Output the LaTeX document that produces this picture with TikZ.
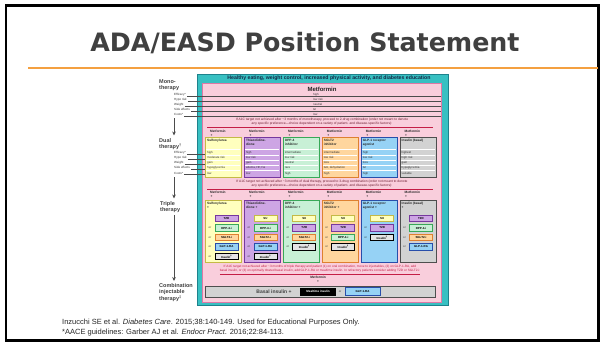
\documentclass[tikz,border=0pt]{standalone}
\usepackage{fontspec}
\setmainfont{Liberation Sans}
\newfontfamily\headfont{DejaVu Sans}
\usetikzlibrary{arrows.meta}

\definecolor{titlegray}{RGB}{64,64,64}
\definecolor{rulegold}{RGB}{244,160,64}
\definecolor{tealbg}{RGB}{56,192,194}
\definecolor{tealedge}{RGB}{30,130,140}
\definecolor{pinkbg}{RGB}{249,206,220}
\definecolor{pinkedge}{RGB}{222,120,165}
\definecolor{navytext}{RGB}{20,40,70}
\definecolor{notered}{RGB}{110,30,50}
\definecolor{rulered}{RGB}{196,30,70}
\definecolor{yelfill}{RGB}{255,255,190}
\definecolor{yeledge}{RGB}{196,186,70}
\definecolor{purfill}{RGB}{205,165,228}
\definecolor{puredge}{RGB}{118,56,158}
\definecolor{grnfill}{RGB}{200,240,214}
\definecolor{grnedge}{RGB}{56,168,88}
\definecolor{orgfill}{RGB}{255,214,158}
\definecolor{orgedge}{RGB}{222,128,48}
\definecolor{blufill}{RGB}{150,210,245}
\definecolor{bluedge}{RGB}{40,78,170}
\definecolor{gryfill}{RGB}{210,210,210}
\definecolor{gryedge}{RGB}{78,78,78}

\newcommand\tsz[2]{\fontsize{#1pt}{#2pt}\selectfont}

% one add-on drug in a triple-therapy column: column, slot, style, label
\newcommand\addon[4]{%
  \pgfmathsetmacro\px{205+#1*38.9}%
  \pgfmathsetmacro\py{218.5+#2*9.5}%
  \node[#3] (c#1s#2) at (\px+21.5,\py) {#4};%
  \ifnum#2>0 \node[orword, anchor=west] (c#1or#2) at (\px+3.5,\py) {or};\fi
}

\begin{document}
\begin{tikzpicture}[x=1pt,y=-1pt,
  colbox/.style={draw, line width=1.2pt, inner sep=0, anchor=north west, minimum width=36pt},
  drugname/.style={inner sep=0, anchor=north west, align=left, font=\bfseries\tsz{3.2}{3.9}, text=black!85},
  rowtxt/.style={inner sep=0, anchor=base west, font=\tsz{2.9}{3.4}, text=black!80},
  sidelbl/.style={inner sep=0, anchor=base west, font=\tsz{3}{3.5}, text=black!80},
  stage/.style={inner sep=0, anchor=north west, align=left, font=\bfseries\tsz{5.5}{6.3}, text=black!75},
  note/.style={inner sep=0, align=center, font=\tsz{3.3}{4}, text=notered},
  mfplus/.style={inner sep=0, anchor=north west, align=left, font=\bfseries\tsz{3.2}{4}, text=black!85},
  pickbox/.style={draw, line width=0.8pt, inner sep=0, minimum width=23pt, minimum height=6.5pt, font=\bfseries\tsz{2.9}{3.4}},
  orword/.style={inner sep=0, font=\tsz{2.8}{3.2}, text=black!80},
  tzdpick/.style={pickbox, fill=purfill, draw=puredge},
  dpppick/.style={pickbox, fill=grnfill, draw=grnedge},
  sglpick/.style={pickbox, fill=orgfill, draw=orgedge},
  glppick/.style={pickbox, fill=blufill, draw=bluedge},
  inspick/.style={pickbox, fill=gryfill!60!white, draw=black},
  supick/.style={pickbox, fill=yelfill, draw=yeledge},
  stagearrow/.style={-{Stealth[length=4pt,width=3.6pt]}, line width=0.9pt, draw=black!70},
  tablerule/.style={line width=0.35pt, draw=black!70},
  redrule/.style={line width=0.7pt, draw=rulered}]

\useasboundingbox (0,0) rectangle (603,342);
\fill[white] (0,0) rectangle (603,342);

% slide frame, title and rule
\draw[line width=2.5pt] (6.2,5.3) rectangle (598.5,340.3);
\node[font=\headfont\bfseries\fontsize{25.3}{30}\selectfont, text=titlegray, anchor=base, inner sep=0]
  (title) at (305,52) {ADA/EASD Position Statement};
\draw[line width=1.5pt, rulegold] (28,68) -- (598,68);

% algorithm background
\draw[fill=tealbg, draw=tealedge, line width=0.8pt] (197,74) rectangle (448,305);
\draw[fill=pinkbg, draw=pinkedge, line width=0.8pt] (202,83) rectangle (441,302);
\node[font=\bfseries\tsz{5.2}{6}, text=navytext, inner sep=0] (life) at (329,78.6)
  {Healthy eating, weight control, increased physical activity, and diabetes education};

% monotherapy
\node[stage] (mono) at (159,79.5) {Mono-\\therapy};
\node[font=\bfseries\tsz{6}{7}, text=black!85, inner sep=0] (met) at (322,89) {Metformin};
\foreach \r/\lab/\val in {0/Efficacy*/high, 1/Hypo risk/low risk, 2/Weight/neutral / loss,
    3/Side effects/GI / lactic acidosis, 4/Costs*/low}{
  \node[sidelbl] (ml\r) at (174,95.3+\r*5) {\lab};
  \draw[tablerule] (ml\r.base east) ++(1,0.4) -- (441,95.7+\r*5);
  \node[rowtxt] (mv\r) at (313,95.2+\r*5) {\val};
}
\node[note] (n1) at (322,122)
  {If A1C target not achieved after \textasciitilde3 months of monotherapy, proceed to 2-drug combination (order not meant to denote\\
   any specific preference---choice dependent on a variety of patient- and disease-specific factors):};
\draw[redrule] (207,127.5) -- (433,127.5);

% dual therapy
\node[stage] (dual) at (159,138.5) {Dual\\therapy\textsuperscript{†}};
\foreach \r/\lab in {0/Efficacy*, 1/Hypo risk, 2/Weight, 3/Side effects, 4/Costs*}{
  \node[sidelbl] (dl\r) at (174,153.3+\r*5.2) {\lab};
  \draw[tablerule] (dl\r.base east) ++(1,0.4) -- (205,153.7+\r*5.2);
}
\foreach \i/\nm/\fc/\ec/\ra/\rb/\rc/\rd/\re in {
  0/Sulfonylurea/yelfill/yeledge/high/moderate risk/gain/hypoglycemia/low,
  1/{Thiazolidine-\\dione}/purfill/puredge/high/low risk/gain/{edema, HF, fxs}/low,
  2/{DPP-4\\inhibitor}/grnfill/grnedge/intermediate/low risk/neutral/rare/high,
  3/{SGLT2\\inhibitor}/orgfill/orgedge/intermediate/low risk/loss/{GU, dehydration}/high,
  4/{GLP-1 receptor\\agonist}/blufill/bluedge/high/low risk/loss/GI/high,
  5/{Insulin (basal)}/gryfill/gryedge/highest/high risk/gain/hypoglycemia/variable}{
  \pgfmathsetmacro\L{205+\i*38.9}
  \node[mfplus] (dm\i) at (\L+5,129.6) {Metformin\\\,+};
  \node[colbox, fill=\fc, draw=\ec, minimum height=40pt] (dual\i) at (\L,137) {};
  \node[drugname] (dn\i) at (\L+2,139) {\nm};
  \foreach \r/\rt in {0/\ra, 1/\rb, 2/\rc, 3/\rd, 4/\re}{
    \draw[white, line width=0.45pt] (\L+1,149.6+\r*5.2) -- (\L+35,149.6+\r*5.2);
    \node[rowtxt] (dr\i-\r) at (\L+2,153.4+\r*5.2) {\rt};
  }
}
\node[note] (n2) at (322,184)
  {If A1C target not achieved after \textasciitilde3 months of dual therapy, proceed to 3-drug combination (order not meant to denote\\
   any specific preference---choice dependent on a variety of patient- and disease-specific factors):};
\draw[redrule] (207,189.3) -- (433,189.3);

% triple therapy
\node[stage] (triple) at (160,201) {Triple\\therapy};
\foreach \i/\nm/\fc/\ec in {
  0/{Sulfonylurea\\+}/yelfill/yeledge,
  1/{Thiazolidine-\\dione +}/purfill/puredge,
  2/{DPP-4\\inhibitor +}/grnfill/grnedge,
  3/{SGLT2\\inhibitor +}/orgfill/orgedge,
  4/{GLP-1 receptor\\agonist +}/blufill/bluedge,
  5/{Insulin (basal)\\+}/gryfill/gryedge}{
  \pgfmathsetmacro\L{205+\i*38.9}
  \node[mfplus] (tm\i) at (\L+5,191.3) {Metformin\\\,+};
  \node[colbox, fill=\fc, draw=\ec, minimum height=62pt] (trip\i) at (\L,200) {};
  \node[drugname] (tn\i) at (\L+2,202) {\nm};
}
\addon{0}{0}{tzdpick}{TZD}
\addon{0}{1}{dpppick}{DPP-4-i}
\addon{0}{2}{sglpick}{SGLT2-i}
\addon{0}{3}{glppick}{GLP-1-RA}
\addon{0}{4}{inspick}{Insulin\textsuperscript{§}}
\addon{1}{0}{supick}{SU}
\addon{1}{1}{dpppick}{DPP-4-i}
\addon{1}{2}{sglpick}{SGLT2-i}
\addon{1}{3}{glppick}{GLP-1-RA}
\addon{1}{4}{inspick}{Insulin\textsuperscript{§}}
\addon{2}{0}{supick}{SU}
\addon{2}{1}{tzdpick}{TZD}
\addon{2}{2}{sglpick}{SGLT2-i}
\addon{2}{3}{inspick}{Insulin\textsuperscript{§}}
\addon{3}{0}{supick}{SU}
\addon{3}{1}{tzdpick}{TZD}
\addon{3}{2}{dpppick}{DPP-4-i}
\addon{3}{3}{inspick}{Insulin\textsuperscript{§}}
\addon{4}{0}{supick}{SU}
\addon{4}{1}{tzdpick}{TZD}
\addon{4}{2}{inspick}{Insulin\textsuperscript{§}}
\addon{5}{0}{tzdpick}{TZD}
\addon{5}{1}{dpppick}{DPP-4-i}
\addon{5}{2}{sglpick}{SGLT2-i}
\addon{5}{3}{glppick}{GLP-1-RA}

% combination injectable therapy
\node[note, font=\tsz{3.15}{4}, text=rulered] (n3) at (320,270)
  {If A1C target not achieved after \textasciitilde3 months of triple therapy and patient (1) on oral combination, move to injectables, (2) on GLP-1-RA, add\\
   \underline{basal insulin, or (3) on optimally titrated basal insulin, add GLP-1-RA or mealtime insulin. In refractory patients consider adding TZD or SGLT2-i:}};
\node[mfplus, anchor=north, align=center] (bm) at (318,276) {Metformin\\+};
\node[draw=gryedge, fill=gryfill, line width=1pt, inner sep=0, anchor=north west,
  minimum width=230pt, minimum height=11pt] (combo) at (205,286) {};
\node[font=\bfseries\tsz{5}{6}, text=black!75, inner sep=0] (basal) at (274,291.5) {Basal insulin +};
\node[fill=black, text=white, font=\bfseries\tsz{3}{3.5}, inner sep=0, minimum width=36pt,
  minimum height=8pt] (meal) at (318,291.5) {Mealtime insulin};
\node[orword] (bor) at (340,291.5) {or};
\node[glppick, minimum width=35pt, minimum height=8pt, line width=1pt] (bglp) at (362.5,291.5) {GLP-1-RA};
\node[stage] (combi) at (159,283.5) {Combination\\injectable\\therapy\textsuperscript{‡}};

% progression arrows
\coordinate (a1s) at (174,118.5);
\coordinate (a1e) at (174,135.5);
\coordinate (a2s) at (174,177.5);
\coordinate (a2e) at (174,198.5);
\coordinate (a3s) at (174,215);
\coordinate (a3e) at (174,281);
\draw[stagearrow] (a1s) -- (a1e);
\draw[stagearrow] (a2s) -- (a2e);
\draw[stagearrow] (a3s) -- (a3e);

% references
\node[anchor=base west, inner sep=0, font=\tsz{7.5}{8.5}, text=black!85] (ref1) at (62,324)
  {Inzucchi SE et al. \textit{Diabetes Care}. 2015;38:140-149. Used for Educational Purposes Only.};
\node[anchor=base west, inner sep=0, font=\tsz{7.5}{8.5}, text=black!85] (ref2) at (62,334)
  {*AACE guidelines: Garber AJ et al. \textit{Endocr Pract}. 2016;22:84-113.};
\end{tikzpicture}
\end{document}
